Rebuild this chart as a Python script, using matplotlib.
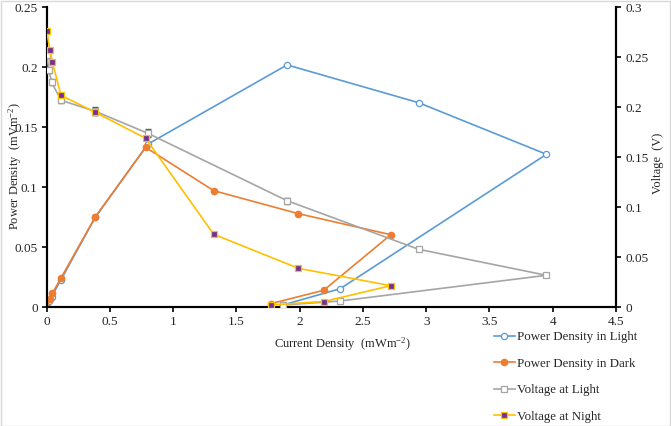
import matplotlib
matplotlib.use("Agg")
import matplotlib.pyplot as plt
from matplotlib.patches import Rectangle

plt.rcParams['font.family'] = ['Liberation Serif', 'DejaVu Serif']
plt.rcParams['mathtext.fontset'] = 'custom'
plt.rcParams['mathtext.rm'] = 'Liberation Serif'
plt.rcParams['mathtext.it'] = 'Liberation Serif:italic'

# Data
light_x = [0, 0.018, 0.039, 0.113, 0.384, 0.80, 1.90, 2.94, 3.95, 2.32, 1.87]
light_pd = [0, 0.005, 0.009, 0.023, 0.075, 0.136, 0.202, 0.1705, 0.1275, 0.0155, 0.002]
light_v = [0.252, 0.237, 0.225, 0.207, 0.196, 0.174, 0.1066, 0.058, 0.032, 0.0063, 0.0023]
light_v_err = [0.003, 0.003, 0.003, 0.003, 0.004, 0.004, 0.003, 0.002, 0.002, 0.001, 0.001]

dark_x = [0, 0.026, 0.045, 0.113, 0.384, 0.782, 1.32, 1.99, 2.72, 2.19, 1.77]
dark_pd = [0, 0.0069, 0.0117, 0.0244, 0.0753, 0.1333, 0.0972, 0.078, 0.0605, 0.0142, 0.003]
dark_v = [0.276, 0.257, 0.245, 0.212, 0.195, 0.169, 0.073, 0.039, 0.0216, 0.0058, 0.0023]
dark_v_err = [0.002, 0.002, 0.002, 0.002, 0.003, 0.002, 0.002, 0.001, 0.001, 0.001, 0.001]

labels = ["Power Density in Light", "Power Density in Dark",
          "Voltage at Light", "Voltage at Night"]

x_ticks = [0, 0.5, 1, 1.5, 2, 2.5, 3, 3.5, 4, 4.5]
y_ticks = [0, 0.05, 0.1, 0.15, 0.2, 0.25]
y2_ticks = [0, 0.05, 0.1, 0.15, 0.2, 0.25, 0.3]

blue = '#5B9BD5'
orange = '#ED7D31'
gray = '#A5A5A5'
gold = '#FFC000'
purple = '#7030A0'
txt = '#262626'

fig = plt.figure(figsize=(6.71, 4.26), dpi=100)
ax = fig.add_axes([46.7/671, 1-307.3/426, (616-46.7)/671, 300/426])
ax2 = ax.twinx()

l1, = ax.plot(light_x, light_pd, '-o', color=blue, lw=1.2, ms=4.5,
              mfc='white', mec=blue, mew=0.9, label=labels[0], zorder=3)
l2, = ax.plot(dark_x, dark_pd, '-o', color=orange, lw=1.2, ms=4.5,
              mfc=orange, mec=orange, label=labels[1], zorder=4)

ax2.errorbar(light_x, light_v, yerr=light_v_err, fmt='none', ecolor='#595959',
             elinewidth=0.8, capsize=2, zorder=3)
l3, = ax2.plot(light_x, light_v, '-s', color=gray, lw=1.2, ms=4.2,
               mfc='white', mec=gray, mew=0.9, label=labels[2], zorder=4)
ax2.errorbar(dark_x, dark_v, yerr=dark_v_err, fmt='none', ecolor='#595959',
             elinewidth=0.8, capsize=2, zorder=4)
l4, = ax2.plot(dark_x, dark_v, '-s', color=gold, lw=1.2, ms=4.5,
               mfc=purple, mec=gold, mew=0.9, label=labels[3], zorder=5)

ax.set_xlim(0, 4.5)
ax.set_ylim(0, 0.25)
ax2.set_ylim(0, 0.3)
ax.set_xticks(x_ticks)
ax.set_xticklabels([f"{t:g}" for t in x_ticks])
ax.set_yticks(y_ticks)
ax.set_yticklabels([f"{t:g}" for t in y_ticks])
ax2.set_yticks(y2_ticks)
ax2.set_yticklabels([f"{t:g}" for t in y2_ticks])

for a in (ax, ax2):
    a.spines['top'].set_visible(False)
    a.tick_params(direction='out', length=3.5, width=1.2, colors='black',
                  labelcolor=txt, labelsize=9.5, pad=3)
    for s in ('left', 'right', 'bottom'):
        a.spines[s].set_linewidth(1.5)
        a.spines[s].set_color('black')

ax.set_xlabel("Current Density  (mWm$^{-2}$)", fontsize=9, color=txt)
ax.xaxis.set_label_coords(0.52, -0.095)
ax.set_ylabel("Power Density  (mVm$^{-2}$)", fontsize=9, color=txt)
ax.yaxis.set_label_coords(-0.04, 0.47)
ax2.set_ylabel("Voltage  (V)", fontsize=9, color=txt)
ax2.yaxis.set_label_coords(1.064, 0.48)

fig.legend(handles=[l1, l2, l3, l4], labels=labels, loc='upper left',
           bbox_to_anchor=(494/671, 1-331/426), frameon=False, fontsize=9.3,
           labelspacing=1.12, handlelength=1.6, handletextpad=0.15,
           borderpad=0, borderaxespad=0, labelcolor=txt)

fig.patches.append(Rectangle((0.001, 0.001), 0.997, 0.997, transform=fig.transFigure,
                             fill=False, edgecolor='#d9d9d9', lw=1))

fig.savefig("out.png", dpi=100)
